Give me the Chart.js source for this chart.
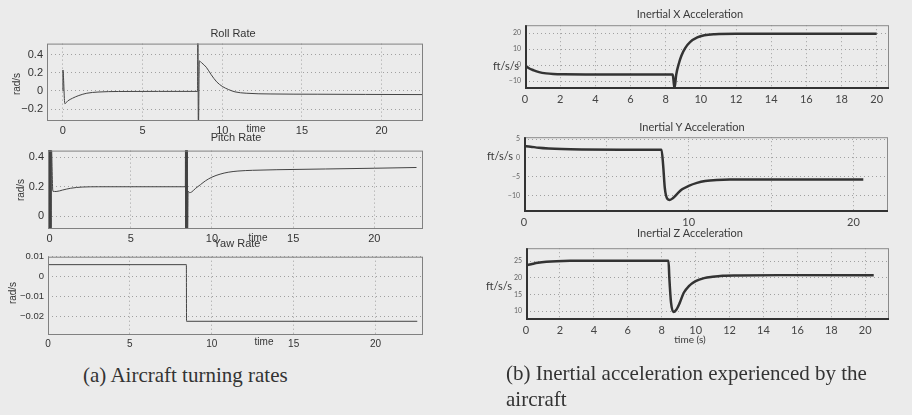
<!DOCTYPE html>
<html>
<head>
<meta charset="utf-8">
<script src="https://cdn.jsdelivr.net/npm/chart.js@4/dist/chart.umd.min.js"></script>
<style>
  body { margin: 0; width: 912px; height: 415px; background: #ebebeb; position: relative; overflow: hidden; }
  canvas { position: absolute; }
  .lbl { position: absolute; white-space: nowrap; transform: translate(-50%, -50%); color: #333; }
  .ml { font-family: "Liberation Sans", Arial, sans-serif; font-size: 11px; }
  .gt { font-family: "Lato", "DejaVu Sans", sans-serif; font-size: 11px; color: #3a3a3a; }
  .rot { transform: translate(-50%, -50%) rotate(-90deg); }
  .cap { position: absolute; font-family: "Liberation Serif", "Times New Roman", serif; font-size: 21px; color: #333; line-height: 26px; white-space: nowrap; }
</style>
</head>
<body>
<canvas id="roll"></canvas>
<canvas id="pitch"></canvas>
<canvas id="yaw"></canvas>
<canvas id="accX"></canvas>
<canvas id="accY"></canvas>
<canvas id="accZ"></canvas>

<div class="lbl ml" style="left:233px;top:33px;">Roll Rate</div>
<div class="lbl ml" style="left:236px;top:137px;">Pitch Rate</div>
<div class="lbl ml" style="left:237px;top:243px;">Yaw Rate</div>
<div class="lbl ml" style="left:256px;top:128px;font-size:10px;">time</div>
<div class="lbl ml" style="left:258px;top:237px;font-size:10px;">time</div>
<div class="lbl ml" style="left:264px;top:341px;font-size:10px;">time</div>
<div class="lbl ml rot" style="left:16px;top:84px;font-size:10px;">rad/s</div>
<div class="lbl ml rot" style="left:20px;top:190px;font-size:10px;">rad/s</div>
<div class="lbl ml rot" style="left:12px;top:293px;font-size:10px;">rad/s</div>

<div class="lbl gt" style="left:690px;top:13px;">Inertial X Acceleration</div>
<div class="lbl gt" style="left:692px;top:126px;">Inertial Y Acceleration</div>
<div class="lbl gt" style="left:690px;top:232px;">Inertial Z Acceleration</div>
<div class="lbl gt" style="left:506px;top:65px;">ft/s/s</div>
<div class="lbl gt" style="left:500px;top:155px;">ft/s/s</div>
<div class="lbl gt" style="left:499px;top:285px;">ft/s/s</div>
<div class="lbl gt" style="left:690px;top:339px;font-size:10px;">time (s)</div>

<div class="cap" style="left:83px;top:362px;">(a) Aircraft turning rates</div>
<div class="cap" style="left:506px;top:360px;">(b) Inertial acceleration experienced by the<br>aircraft</div>

<script>
// Roll rate
const rollTime = [0, 0, 0.12, 0.3, 0.6, 1.0, 1.5, 2.2, 3.5, 6, 8.45, 8.47, 8.5, 8.56, 8.7, 9.0, 9.3, 9.65, 10.0, 10.4, 10.8, 11.5, 13, 16, 19, 22.6];
const rollRate = [0, 0.23, -0.14, -0.11, -0.08, -0.05, -0.025, -0.012, -0.006, -0.005, -0.005, 0.7, -0.5, 0.33, 0.31, 0.26, 0.18, 0.10, 0.05, 0.015, -0.01, -0.025, -0.033, -0.036, -0.038, -0.04];
const rollYTicks = [-0.2, 0, 0.2, 0.4];

// Pitch rate (dense oscillation at 0 s and 8.4 s)
const pitchTime = [-0.06, -0.05, -0.04, -0.03, -0.02, -0.01, 0, 0.01, 0.02, 0.03, 0.04, 0.05, 0.06, 0.07, 0.08, 0.09, 0.1, 0.2, 0.4, 0.8, 1.3, 2, 3, 5, 8.36, 8.37, 8.38, 8.39, 8.40, 8.41, 8.42, 8.43, 8.44, 8.45, 8.46, 8.47, 8.48, 8.49, 8.5, 8.53, 8.62, 8.75, 9.0, 9.3, 9.6, 10, 10.5, 11, 11.6, 12.5, 14, 17, 20, 22.6];
const pitchRate = [0.5, -0.1, 0.5, -0.1, 0.5, -0.1, 0.5, -0.1, 0.5, -0.1, 0.5, -0.1, 0.5, -0.1, 0.5, -0.1, 0.5, 0.17, 0.168, 0.178, 0.19, 0.198, 0.2, 0.2, 0.2, 0.5, -0.1, 0.5, -0.1, 0.5, -0.1, 0.5, -0.1, 0.5, -0.1, 0.5, -0.1, 0.5, -0.1, 0.17, 0.16, 0.165, 0.19, 0.215, 0.24, 0.265, 0.285, 0.298, 0.306, 0.311, 0.315, 0.32, 0.325, 0.33];
const pitchYTicks = [0, 0.2, 0.4];

// Yaw rate
const yawTime = [0, 8.45, 8.46, 22.55];
const yawRate = [0.006, 0.006, -0.0225, -0.0225];
const yawYTicks = [-0.02, -0.01, 0, 0.01];

const rateXTicks = [0, 5, 10, 15, 20];

// Inertial accelerations
const accXTime = [0, 0.2, 0.5, 0.8, 1.2, 1.6, 2.2, 4, 8.4, 8.45, 8.5, 8.6, 8.75, 8.9, 9.1, 9.4, 9.8, 10.2, 10.8, 12, 15, 20];
const accXVal = [0, -1.8, -3.3, -4.4, -5.2, -5.6, -5.8, -5.9, -5.9, -10, -14.5, -6, 1, 6, 10.5, 14.5, 17.3, 18.7, 19.4, 19.7, 19.7, 19.7];
const accXYTicks = [-10, 0, 10, 20];

const accYTime = [0, 0.4, 0.9, 1.5, 2.3, 3.5, 6, 8.35, 8.45, 8.55, 8.7, 8.85, 9.05, 9.3, 9.6, 10.0, 10.5, 11.0, 11.7, 12.5, 15, 20.6];
const accYVal = [3.2, 3.0, 2.7, 2.5, 2.35, 2.25, 2.2, 2.2, -2, -8, -10.8, -11.1, -10.6, -9.5, -8.3, -7.4, -6.6, -6.1, -5.8, -5.7, -5.7, -5.7];
const accYYTicks = [-10, -5, 0, 5];
const accYXTicks = [0, 5, 10, 15, 20];
const accYXLabels = [0, 10, 20];

const accZTime = [0, 0.3, 0.7, 1.2, 1.8, 2.6, 5, 8.4, 8.45, 8.55, 8.7, 8.85, 9.05, 9.3, 9.6, 10, 10.5, 11, 11.6, 12.5, 15, 20.5];
const accZVal = [23.8, 24.1, 24.5, 24.8, 25.0, 25.1, 25.1, 25.1, 20, 12.5, 9.7, 10.3, 12.3, 15.5, 17.5, 19, 19.9, 20.3, 20.6, 20.7, 20.8, 20.8];
const accZYTicks = [10, 15, 20, 25];

const accXTicks = [0, 2, 4, 6, 8, 10, 12, 14, 16, 18, 20];

// Box around plot area, like matlab
const framePlugin = {
    id: 'frame',
    afterDraw(chart, args, opts) {
        const { ctx, chartArea: a } = chart;
        ctx.save();
        ctx.strokeStyle = opts.color || '#777';
        ctx.lineWidth = 1;
        ctx.strokeRect(a.left + 0.5, a.top + 0.5, a.right - a.left - 1, a.bottom - a.top - 1);
        if (opts.heavy) {
            ctx.strokeStyle = '#333';
            ctx.lineWidth = 2;
            ctx.beginPath();
            ctx.moveTo(a.left + 1, a.top);
            ctx.lineTo(a.left + 1, a.bottom - 1);
            ctx.lineTo(a.right, a.bottom - 1);
            ctx.stroke();
        }
        ctx.restore();
    }
};

const fmt = v => String(Math.round(v * 1000) / 1000).replace('-', '\u2212');

function makePanel(id, rect, times, values, cfg) {
    const padTop = 8, padRight = 10;
    const cv = document.getElementById(id);
    cv.width = rect.r - rect.l + rect.yw + padRight;
    cv.height = rect.b - rect.t + padTop + rect.xh;
    cv.style.left = (rect.l - rect.yw) + 'px';
    cv.style.top = (rect.t - padTop) + 'px';
    const xLabels = cfg.xLabels || cfg.xTicks;

    return new Chart(cv, {
        type: 'line',
        data: {
            datasets: [{
                data: times.map((t, i) => ({ x: t, y: values[i] })),
                borderColor: cfg.lineColor,
                borderWidth: cfg.lineWidth,
                pointRadius: 0,
                cubicInterpolationMode: 'monotone'
            }]
        },
        options: {
            responsive: false,
            animation: false,
            layout: { padding: { top: padTop, right: padRight, left: 0, bottom: 0 } },
            plugins: {
                legend: { display: false },
                tooltip: { enabled: false },
                frame: { color: cfg.frameColor, heavy: cfg.heavy }
            },
            scales: {
                x: {
                    type: 'linear',
                    min: cfg.xRange[0],
                    max: cfg.xRange[1],
                    afterFit: s => { s.height = rect.xh; },
                    afterBuildTicks: s => { s.ticks = cfg.xTicks.map(v => ({ value: v })); },
                    grid: { color: '#a0a0a0', drawTicks: false },
                    border: { display: false, dash: [1, 3] },
                    ticks: {
                        autoSkip: false, maxRotation: 0, padding: cfg.xPad,
                        color: cfg.tickColor, font: cfg.xFont,
                        callback: v => xLabels.includes(v) ? fmt(v) : ''
                    }
                },
                y: {
                    min: cfg.yRange[0],
                    max: cfg.yRange[1],
                    afterFit: s => { s.width = rect.yw; },
                    afterBuildTicks: s => { s.ticks = cfg.yTicks.map(v => ({ value: v })); },
                    grid: { color: '#a0a0a0', drawTicks: false },
                    border: { display: false, dash: [1, 3] },
                    ticks: {
                        padding: 4, color: cfg.yTickColor || cfg.tickColor, font: cfg.yFont || cfg.xFont,
                        callback: v => fmt(v)
                    }
                }
            }
        },
        plugins: [framePlugin]
    });
}

const matlabFont = { family: '"Liberation Sans", Arial, sans-serif', size: 11 };
const leftStyle = {
    lineColor: '#444', lineWidth: 1, frameColor: '#808080', heavy: false,
    tickColor: '#333', xFont: matlabFont, yFont: matlabFont, xPad: 3
};
const rightStyle = {
    lineColor: '#333', lineWidth: 2.5, frameColor: '#8a8a8a', heavy: true,
    tickColor: '#444', yTickColor: '#666',
    xFont: { family: '"Lato", "DejaVu Sans", sans-serif', size: 11 },
    yFont: { family: '"Lato", "DejaVu Sans", sans-serif', size: 7 }, xPad: 4
};

makePanel('roll', { l: 47, t: 41, r: 423, b: 121, yw: 47, xh: 18 }, rollTime, rollRate,
    Object.assign({}, leftStyle, { xRange: [-1, 22.6], yRange: [-0.33, 0.52], xTicks: rateXTicks, yTicks: rollYTicks }));

makePanel('pitch', { l: 48, t: 148, r: 423, b: 229, yw: 48, xh: 18 }, pitchTime, pitchRate,
    Object.assign({}, leftStyle, { xRange: [-0.1, 23], yRange: [-0.085, 0.444], xTicks: rateXTicks, yTicks: pitchYTicks }));

makePanel('yaw', { l: 48, t: 255, r: 423, b: 335, yw: 48, xh: 18 }, yawTime, yawRate,
    Object.assign({}, leftStyle, {
        xRange: [0, 22.9], yRange: [-0.0294, 0.01], xTicks: rateXTicks, yTicks: yawYTicks,
        xFont: { family: matlabFont.family, size: 10 }, yFont: { family: matlabFont.family, size: 9.5 }
    }));

makePanel('accX', { l: 525, t: 25, r: 889, b: 89, yw: 30, xh: 20 }, accXTime, accXVal,
    Object.assign({}, rightStyle, { xRange: [0, 20.7], yRange: [-15, 25], xTicks: accXTicks, yTicks: accXYTicks }));

makePanel('accY', { l: 524, t: 137, r: 888, b: 212, yw: 30, xh: 20 }, accYTime, accYVal,
    Object.assign({}, rightStyle, { xRange: [0, 22.1], yRange: [-14.3, 5.5], xTicks: accYXTicks, xLabels: accYXLabels, yTicks: accYYTicks }));

makePanel('accZ', { l: 526, t: 248, r: 889, b: 320, yw: 30, xh: 20 }, accZTime, accZVal,
    Object.assign({}, rightStyle, { xRange: [0, 21.4], yRange: [7.3, 28.9], xTicks: accXTicks, yTicks: accZYTicks }));
</script>
</body>
</html>
